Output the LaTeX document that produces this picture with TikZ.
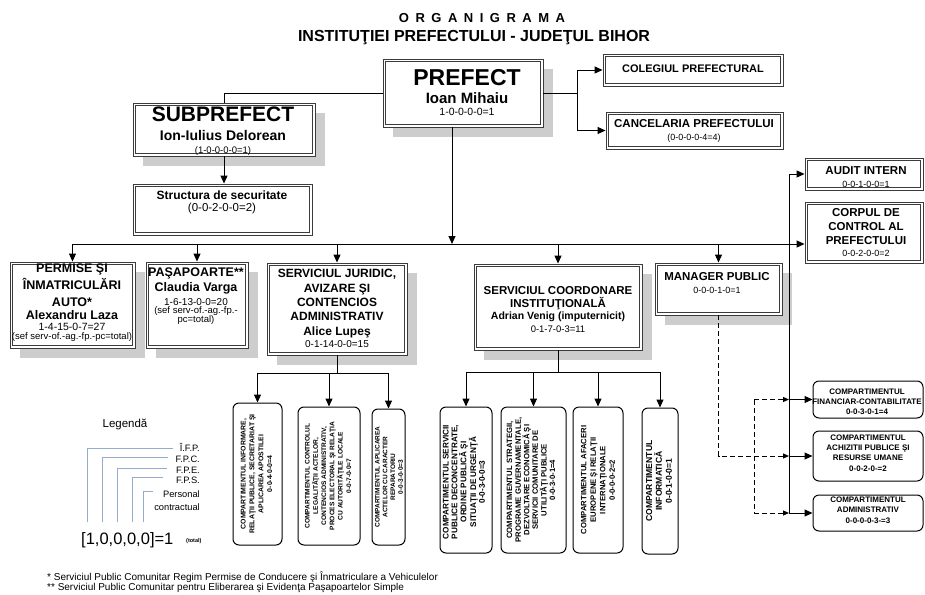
\documentclass[tikz,border=0pt]{standalone}
\usepackage{fontspec}
\setmainfont{Liberation Sans}
\usetikzlibrary{arrows.meta,shadows}
\definecolor{legendblue}{RGB}{150,172,205}
\definecolor{shadowgray}{RGB}{205,205,205}
\definecolor{boxline}{RGB}{60,60,60}
\begin{document}
\begin{tikzpicture}[x=1pt,y=-1pt,
  box/.style={draw=boxline, line width=0.9pt, fill=white, inner sep=0pt,
    path picture={\draw[boxline, line width=0.9pt]
      ([xshift=2.4pt,yshift=2.4pt]path picture bounding box.south west) rectangle
      ([xshift=-2.4pt,yshift=-2.4pt]path picture bounding box.north east);}},
  shad/.style={drop shadow={shadow xshift=10pt, shadow yshift=-10pt, fill=shadowgray, opacity=1}},
  rbox/.style={draw=black, line width=1pt, rounded corners=6pt, fill=white, inner sep=0pt},
  conn/.style={draw=black, line width=1pt},
  arr/.style={-{Triangle[length=8pt,width=7pt]}},
  sarr/.style={-{Triangle[length=6pt,width=5pt]}},
  dconn/.style={draw=black, line width=1pt, dash pattern=on 5pt off 3pt},
  lg/.style={draw=legendblue, line width=1pt},
  tx/.style={inner sep=0pt, align=center},
  rtext/.style={rotate=90, inner sep=0pt, align=center}
]
\fill[white] (0,0) rectangle (925,594);
\useasboundingbox (0,0) rectangle (925,594);

% ---------- title ----------
\node[tx, font=\fontsize{13}{13}\selectfont\bfseries\addfontfeature{LetterSpace=50}] (title1) at (482,18) {ORGANIGRAMA};
\node[tx, font=\fontsize{16}{16}\selectfont\bfseries] (title2) at (474,38) {INSTITUŢIEI PREFECTULUI - JUDEŢUL BIHOR};

% ---------- top boxes ----------
\node[box, shad, minimum width=160pt, minimum height=68pt] (prefect) at (463,93) {};
\node[tx, font=\fontsize{23}{23}\selectfont\bfseries] (prefectA) at (467,78) {PREFECT};
\node[tx, font=\fontsize{15}{15}\selectfont\bfseries] (prefectB) at (467,98) {Ioan Mihaiu};
\node[tx, font=\fontsize{10.5}{10.5}\selectfont] (prefectC) at (467,112) {1-0-0-0-0=1};

\node[box, shad, minimum width=182pt, minimum height=53pt] (subpref) at (224,129.5) {};
\node[tx, font=\fontsize{21}{21}\selectfont\bfseries] (subprefA) at (223,114) {SUBPREFECT};
\node[tx, font=\fontsize{14}{14}\selectfont\bfseries] (subprefB) at (223,135.5) {Ion-Iulius Delorean};
\node[tx, font=\fontsize{9.5}{9.5}\selectfont] (subprefC) at (223,151) {(1-0-0-0-0=1)};

\node[box, minimum width=179pt, minimum height=51pt] (struct) at (222.5,209.5) {};
\node[tx, font=\fontsize{12}{12}\selectfont\bfseries] (structA) at (222,195) {Structura de securitate};
\node[tx, font=\fontsize{11.5}{11.5}\selectfont] (structB) at (222,209) {(0-0-2-0-0=2)};

\node[box, minimum width=180pt, minimum height=32pt] (colegiu) at (693,70) {};
\node[tx, font=\fontsize{11}{11}\selectfont\bfseries] (colegiuA) at (693,69) {COLEGIUL PREFECTURAL};

\node[box, minimum width=177pt, minimum height=37pt] (cancel) at (694.5,130.5) {};
\node[tx, font=\fontsize{11.5}{11.5}\selectfont\bfseries] (cancelA) at (694,124) {CANCELARIA PREFECTULUI};
\node[tx, font=\fontsize{9}{9}\selectfont] (cancelB) at (694,138) {(0-0-0-0-4=4)};

\node[box, minimum width=118pt, minimum height=32pt] (audit) at (864,174) {};
\node[tx, font=\fontsize{11.5}{11.5}\selectfont\bfseries] (auditA) at (866,171) {AUDIT INTERN};
\node[tx, font=\fontsize{9}{9}\selectfont] (auditB) at (866,184) {0-0-1-0-0=1};

\node[box, minimum width=118pt, minimum height=61pt] (corpul) at (864,232.5) {};
\node[tx, font=\fontsize{11.5}{14}\selectfont\bfseries] (corpulA) at (866,227) {CORPUL DE\\CONTROL AL\\PREFECTULUI};
\node[tx, font=\fontsize{9}{9}\selectfont] (corpulB) at (866,253) {0-0-2-0-0=2};

% ---------- second row ----------
\node[box, shad, minimum width=125pt, minimum height=86pt] (permise) at (72.5,305) {};
\node[tx, font=\fontsize{12.5}{17}\selectfont\bfseries] (permiseA) at (72,285) {PERMISE ŞI\\ÎNMATRICULĂRI\\AUTO*};
\node[tx, font=\fontsize{12.5}{12.5}\selectfont\bfseries] (permiseB) at (72,315) {Alexandru Laza};
\node[tx, font=\fontsize{10.5}{10.5}\selectfont] (permiseC) at (72,327) {1-4-15-0-7=27};
\node[tx, font=\fontsize{9.5}{9.5}\selectfont] (permiseD) at (72,337.5) {(sef serv-of.-ag.-fp.-pc=total)};

\node[box, shad, minimum width=102pt, minimum height=86pt] (pasap) at (197,305) {};
\node[tx, font=\fontsize{12.5}{15}\selectfont\bfseries] (pasapA) at (196,281) {PAŞAPOARTE**\\Claudia Varga};
\node[tx, font=\fontsize{10}{10}\selectfont] (pasapB) at (196,302) {1-6-13-0-0=20};
\node[tx, font=\fontsize{9.5}{9.5}\selectfont] (pasapC) at (196,315.5) {(sef serv-of.-ag.-fp.-\\pc=total)};

\node[box, shad, minimum width=140pt, minimum height=92pt] (juridic) at (337,309) {};
\node[tx, font=\fontsize{12}{14.3}\selectfont\bfseries] (juridicA) at (337,303.5) {SERVICIUL JURIDIC,\\AVIZARE ŞI\\CONTENCIOS\\ADMINISTRATIV\\Alice Lupeş};
\node[tx, font=\fontsize{10}{10}\selectfont] (juridicB) at (337,344) {0-1-14-0-0=15};

\node[box, shad, minimum width=168pt, minimum height=86pt] (coord) at (558,307) {};
\node[tx, font=\fontsize{11.5}{12.5}\selectfont\bfseries] (coordA) at (558,298) {SERVICIUL COORDONARE\\INSTITUŢIONALĂ};
\node[tx, font=\fontsize{10.5}{10.5}\selectfont\bfseries] (coordB) at (558,317) {Adrian Venig (imputernicit)};
\node[tx, font=\fontsize{9.5}{9.5}\selectfont] (coordC) at (558,329) {0-1-7-0-3=11};

\node[box, shad, minimum width=127pt, minimum height=52pt] (manager) at (718.5,289) {};
\node[tx, font=\fontsize{11.5}{11.5}\selectfont\bfseries] (managerA) at (717,277) {MANAGER PUBLIC};
\node[tx, font=\fontsize{9}{9}\selectfont] (managerB) at (717,290) {0-0-0-1-0=1};

% ---------- vertical compartments ----------
\node[rbox, minimum width=49pt, minimum height=142pt] (cA) at (257.5,474) {};
\node[rtext, font=\fontsize{6.9}{8.8}\selectfont\bfseries] (tA) at (256.5,474) {COMPARTIMENTUL INFORMARE,\\RELAŢII PUBLICE, SECRETARIAT ŞI\\APLICAREA APOSTILEI\\0-0-4-0-0=4};
\node[rbox, minimum width=62pt, minimum height=138pt] (cB) at (329,476) {};
\node[rtext, font=\fontsize{6.6}{8.3}\selectfont\bfseries] (tB) at (328,476) {COMPARTIMENTUL CONTROLUL\\LEGALITĂŢII ACTELOR,\\CONTENCIOS ADMINISTRATIV,\\PROCES ELECTORAL ŞI RELAŢIA\\CU AUTORITĂŢILE LOCALE\\0-0-7-0-0=7};
\node[rbox, minimum width=33pt, minimum height=136pt] (cC) at (388.5,477) {};
\node[rtext, font=\fontsize{6.5}{7.8}\selectfont\bfseries] (tC) at (389,477) {COMPARTIMENTUL APLICAREA\\ACTELOR CU CARACTER\\REPARATORIU\\0-0-3-0-0=3};

\node[rbox, minimum width=52pt, minimum height=146pt] (cD) at (466,480) {};
\node[rtext, font=\fontsize{8.2}{8.8}\selectfont\bfseries] (tD) at (464,482) {COMPARTIMENTUL SERVICII\\PUBLICE DECONCENTRATE,\\ORDINE PUBLICĂ ŞI\\SITUAŢII DE URGENŢĂ\\0-0-3-0-0=3};
\node[rbox, minimum width=65pt, minimum height=146pt] (cE) at (533.5,480) {};
\node[rtext, font=\fontsize{7.7}{8.6}\selectfont\bfseries] (tE) at (531,480) {COMPARTIMENTUL STRATEGII,\\PROGRAME GUVERNAMENTALE,\\DEZVOLTARE ECONOMICĂ ŞI\\SERVICII COMUNITARE DE\\UTILITĂŢI PUBLICE\\0-0-3-0-1=4};
\node[rbox, minimum width=50pt, minimum height=146pt] (cF) at (598,480) {};
\node[rtext, font=\fontsize{7.7}{9.5}\selectfont\bfseries] (tF) at (598,480) {COMPARTIMENTUL AFACERI\\EUROPENE ŞI RELAŢII\\INTERNAŢIONALE\\0-0-0-0-2=2};
\node[rbox, minimum width=36pt, minimum height=146pt] (cG) at (660,481) {};
\node[rtext, font=\fontsize{8.6}{9.8}\selectfont\bfseries] (tG) at (659,481) {COMPARTIMENTUL\\INFORMATICĂ\\0-0-1-0-0=1};

% ---------- right compartments ----------
\node[rbox, minimum width=110pt, minimum height=37pt] (r1) at (868,399.5) {};
\node[tx, font=\fontsize{8}{10}\selectfont\bfseries] (r1t) at (867,402) {COMPARTIMENTUL\\FINANCIAR-CONTABILITATE\\0-0-3-0-1=4};
\node[rbox, minimum width=110pt, minimum height=50pt] (r2) at (868,456) {};
\node[tx, font=\fontsize{8}{10.3}\selectfont\bfseries] (r2t) at (868,453) {COMPARTIMENTUL\\ACHIZITII PUBLICE ŞI\\RESURSE UMANE\\0-0-2-0-=2};
\node[rbox, minimum width=110pt, minimum height=36pt] (r3) at (868,513) {};
\node[tx, font=\fontsize{8}{10.5}\selectfont\bfseries] (r3t) at (868,510) {COMPARTIMENTUL\\ADMINISTRATIV\\0-0-0-0-3-=3};

% ---------- connectors ----------
\coordinate (hy) at (0,244);
\coordinate (rx) at (577,93);
\coordinate (pv) at (452,244);
\coordinate (vx) at (789,0);
\coordinate (dx) at (754,0);
\coordinate (jb) at (337,373);
\coordinate (kb) at (558,372);

\draw[conn] (prefect.west) -| (subpref.north);
\draw[conn,arr] (subpref.south) -- (subpref.south |- struct.north);
\draw[conn] (prefect.east) -- (rx);
\draw[conn] (colegiu.west -| rx) -- (cancel.west -| rx);
\draw[conn,arr] (colegiu.west -| rx) -- (colegiu.west);
\draw[conn,arr] (cancel.west -| rx) -- (cancel.west);
\draw[conn,arr] (prefect.south -| pv) -- (pv);

\draw[conn,arr] (permise.north |- hy) -- (corpul.west |- hy);
\draw[conn,arr] (permise.north |- hy) -- (permise.north);
\draw[conn,arr] (pasap.north |- hy) -- (pasap.north);
\draw[conn,arr] (juridic.north |- hy) -- (juridic.north);
\draw[conn,arr] (coord.north |- hy) -- (coord.north);
\draw[conn,arr] (manager.north |- hy) -- (manager.north);

\draw[conn] (audit.west -| vx) -- (r3.west -| vx);
\draw[conn,arr] (audit.west -| vx) -- (audit.west);
\draw[conn,arr] (r1.west -| vx) -- (r1.west);
\draw[conn,arr] (r2.west -| vx) -- (r2.west);
\draw[conn,arr] (r3.west -| vx) -- (r3.west);

\draw[dconn,sarr] (manager.south) |- (r2.west -| vx);
\draw[dconn] (r1.west -| dx) -- (r3.west -| dx);
\draw[dconn,sarr] (r1.west -| dx) -- (r1.west -| vx);
\draw[dconn,sarr] (r3.west -| dx) -- (r3.west -| vx);

\draw[conn] (juridic.south) -- (jb);
\draw[conn] (cA.north |- jb) -- (cC.north |- jb);
\draw[conn,arr] (cA.north |- jb) -- (cA.north);
\draw[conn,arr] (cB.north |- jb) -- (cB.north);
\draw[conn,arr] (cC.north |- jb) -- (cC.north);

\draw[conn] (coord.south) -- (kb);
\draw[conn] (cD.north |- kb) -- (cG.north |- kb);
\draw[conn,arr] (cD.north |- kb) -- (cD.north);
\draw[conn,arr] (cE.north |- kb) -- (cE.north);
\draw[conn,arr] (cF.north |- kb) -- (cF.north);
\draw[conn,arr] (cG.north |- kb) -- (cG.north);

% ---------- legend ----------
\node[tx, font=\fontsize{11.5}{11.5}\selectfont] (legend) at (125,424) {Legendă};
\draw[lg] (87,522) |- (173,448);
\draw[lg] (102,522) |- (168,457);
\draw[lg] (117,522) |- (167,468);
\draw[lg] (132,522) |- (163,477);
\draw[lg] (143,522) |- (153,491);
\node[tx, anchor=east, font=\fontsize{9.3}{9.3}\selectfont] (lg1) at (200,447) {Î.F.P.};
\node[tx, anchor=east, font=\fontsize{9.3}{9.3}\selectfont] (lg2) at (200,459) {F.P.C.};
\node[tx, anchor=east, font=\fontsize{9.3}{9.3}\selectfont] (lg3) at (200,470) {F.P.E.};
\node[tx, anchor=east, font=\fontsize{9.3}{9.3}\selectfont] (lg4) at (200,480) {F.P.S.};
\node[tx, anchor=east, font=\fontsize{9.3}{9.3}\selectfont] (lg5) at (200,494) {Personal};
\node[tx, anchor=east, font=\fontsize{9.3}{9.3}\selectfont] (lg6) at (200,507) {contractual};
\node[tx, anchor=west, font=\fontsize{16.5}{16.5}\selectfont] (formula) at (81,540) {[1,0,0,0,0]=1};
\node[tx, anchor=west, font=\fontsize{5.5}{5.5}\selectfont\bfseries] (total) at (186,541) {(total)};

% ---------- footnotes ----------
\node[tx, anchor=west, align=left, font=\fontsize{10}{9.8}\selectfont] (notes) at (47,582.5) {* Serviciul Public Comunitar Regim Permise de Conducere şi Înmatriculare a Vehiculelor\\** Serviciul Public Comunitar pentru Eliberarea şi Evidenţa Paşapoartelor Simple};
\end{tikzpicture}
\end{document}
